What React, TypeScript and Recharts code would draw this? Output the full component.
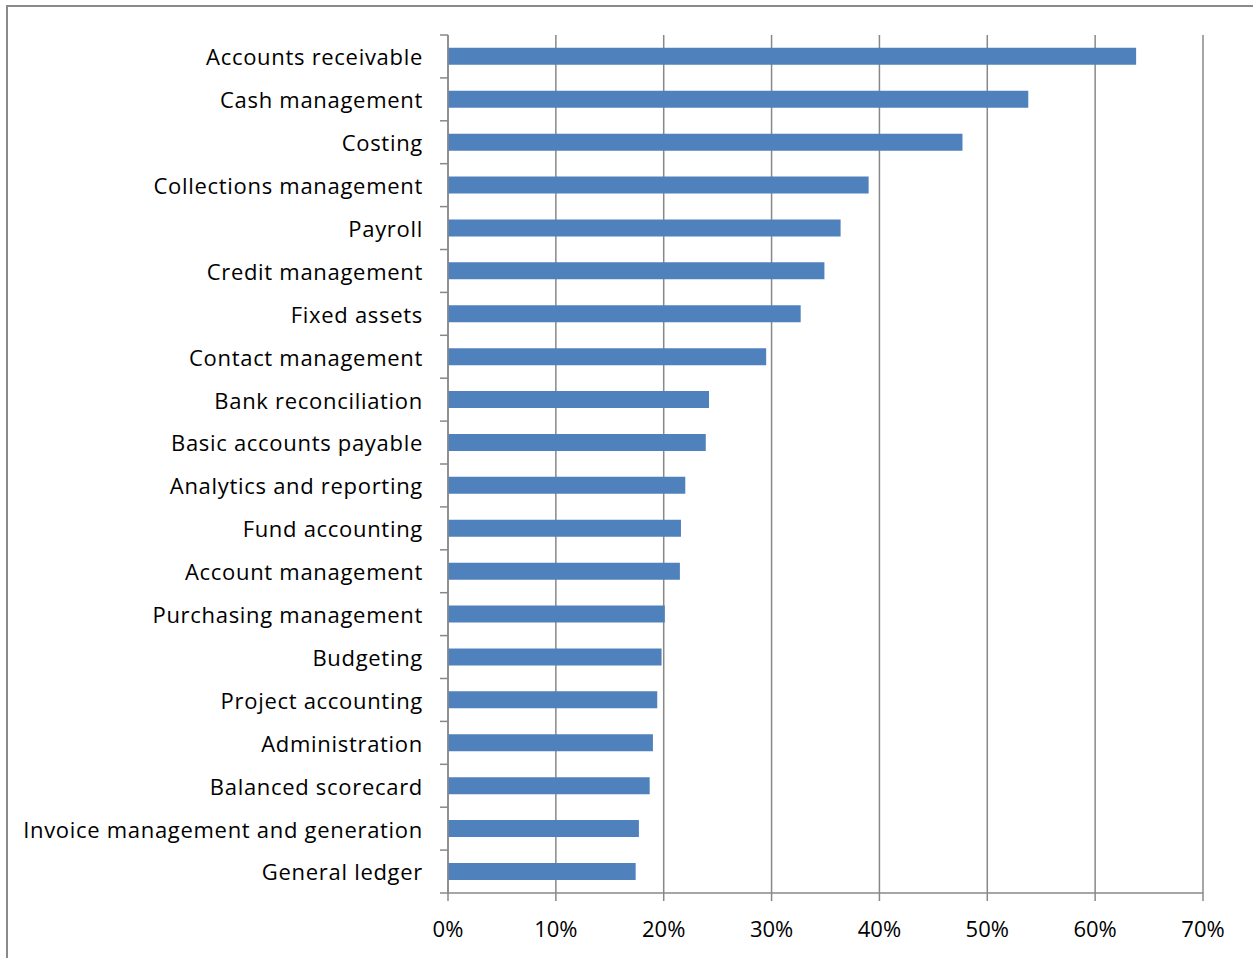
import React from "react";
import { BarChart, Bar, XAxis, YAxis, CartesianGrid } from "recharts";

const categories = [
  "Accounts receivable",
  "Cash management",
  "Costing",
  "Collections management",
  "Payroll",
  "Credit management",
  "Fixed assets",
  "Contact management",
  "Bank reconciliation",
  "Basic accounts payable",
  "Analytics and reporting",
  "Fund accounting",
  "Account management",
  "Purchasing management",
  "Budgeting",
  "Project accounting",
  "Administration",
  "Balanced scorecard",
  "Invoice management and generation",
  "General ledger",
];

const values = [
  63.8, 53.8, 47.7, 39.0, 36.4, 34.9, 32.7, 29.5, 24.2, 23.9, 22.0, 21.6, 21.5,
  20.1, 19.8, 19.4, 19.0, 18.7, 17.7, 17.4,
];

const xTicks = [0, 10, 20, 30, 40, 50, 60, 70];

const data = categories.map((c, i) => ({ name: c, value: values[i] }));

const FONT = "'Open Sans', Lato, sans-serif";
const FONT_SIZE = 22;
const GRAY = "#888888";

const YTick = (props: any) => {
  const { x, y, payload, index } = props;
  const half = payload && payload.offset ? payload.offset : 21.45;
  const axisX = x + 25;
  return (
    <g>
      <line x1={axisX - 8} x2={axisX} y1={y - half} y2={y - half} stroke={GRAY} strokeWidth={1.5} />
      {index === categories.length - 1 && (
        <line x1={axisX - 8} x2={axisX} y1={y + half} y2={y + half} stroke={GRAY} strokeWidth={1.5} />
      )}
      <text
        x={x}
        y={y + 1}
        dy="0.36em"
        textAnchor="end"
        fill="#000"
        fontFamily={FONT}
        fontSize={FONT_SIZE}
        letterSpacing={0.7}
      >
        {payload.value}
      </text>
    </g>
  );
};

export default function App() {
  return (
    <div style={{ position: "absolute", left: 0, top: 0, width: 1253, height: 958, background: "#fff", overflow: "hidden" }}>
      <div
        style={{
          position: "absolute",
          left: 6,
          top: 5,
          width: 1300,
          height: 1000,
          border: "2px solid #8a8a8a",
          boxSizing: "border-box",
        }}
      />
      <div style={{ position: "absolute", left: 0, top: 0 }}>
        <BarChart
          width={1253}
          height={958}
          data={data}
          layout="vertical"
          margin={{ top: 35, right: 50, bottom: 25, left: 0 }}
          barCategoryGap="30%"
        >
          <CartesianGrid horizontal={false} vertical={true} stroke={GRAY} strokeWidth={1.5} />
          <XAxis
            type="number"
            domain={[0, 70]}
            ticks={xTicks}
            interval={0}
            tickFormatter={(v: number) => `${v}%`}
            stroke={GRAY}
            strokeWidth={1.5}
            tickSize={8}
            tickMargin={20}
            height={40}
            tick={{ fill: "#000", fontFamily: FONT, fontSize: FONT_SIZE }}
          />
          <YAxis
            type="category"
            dataKey="name"
            width={448}
            stroke={GRAY}
            strokeWidth={1.5}
            tickLine={false}
            tickSize={0}
            tickMargin={25}
            interval={0}
            tick={<YTick />}
          />
          <Bar dataKey="value" fill="#4F81BD" isAnimationActive={false} />
        </BarChart>
      </div>
    </div>
  );
}
